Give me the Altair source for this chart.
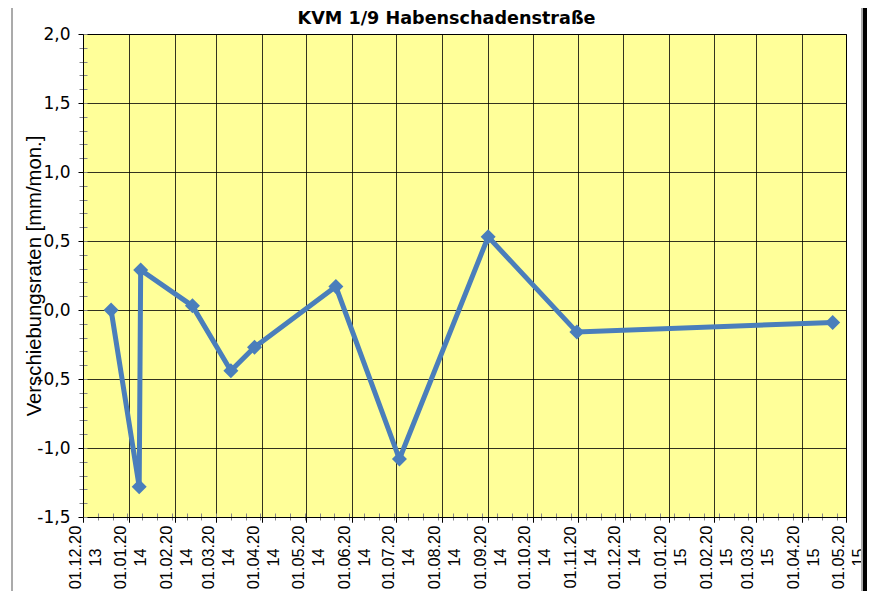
import altair as alt
import pandas as pd
import numpy as np

# ---- data ----
dates = ["2013-12-20", "2014-01-08", "2014-01-09", "2014-02-13", "2014-03-11",
         "2014-03-27", "2014-05-21", "2014-07-03", "2014-09-01", "2014-10-31",
         "2015-04-22"]
rates = [0.00, -1.28, 0.29, 0.03, -0.44, -0.27, 0.17, -1.08, 0.53, -0.16, -0.09]

title_text = ["KVM 1/9 Habenschadenstraße"]
y_title = "Verschiebungsraten [mm/mon.]"
x_start = "2013-12-01"
x_end = "2015-05-01"
y_major = [-1.5, -1.0, -0.5, 0.0, 0.5, 1.0, 1.5, 2.0]

df = pd.DataFrame({"date": dates, "rate": rates})
title_df = pd.DataFrame({"t": title_text})


def to_ms(t):
    return int(pd.Timestamp(t).value // 10**6)


month_ms = [to_ms(t) for t in pd.date_range(x_start, x_end, freq="MS")]
minor_ms = [to_ms(t) for t in pd.date_range(x_start, x_end, freq="10D")]
y_minor = [round(float(v), 1) for v in np.arange(-1.5, 2.0001, 0.1)]

xs = alt.Scale(type="utc", domain=[month_ms[0], month_ms[-1]], nice=False)
ys = alt.Scale(domain=[-1.5, 2.0], nice=False, zero=False)

LINE = "#4A7EBB"
LBL_FONT = "Liberation Sans"
LBL_SIZE = 16.3
LBL_PAD = 35

date_label_expr = "substring(utcFormat(datum.value,'%d.%m.%Y'),0,8)"
year_label_expr = "substring(utcFormat(datum.value,'%d.%m.%Y'),8,10)"
y_label_expr = "replace(replace(format(datum.value,'.1f'),'.',','),'\u2212','-')"

ax_main = alt.Axis(orient="bottom", values=month_ms, labelExpr=date_label_expr,
                   labelAngle=270, labelAlign="center", labelBaseline="middle",
                   labelFont=LBL_FONT, labelFontSize=LBL_SIZE,
                   labelColor="black", labelPadding=LBL_PAD, labelOffset=-8,
                   labelOverlap=False, labelFlush=False,
                   tickSize=5, tickColor="black", domainColor="black",
                   grid=True, gridColor="black", gridOpacity=0.8,
                   title=None)
ay_main = alt.Axis(orient="left", values=y_major, labelExpr=y_label_expr,
                   labelFont="DejaVu Sans", labelFontSize=17,
                   labelColor="black", labelPadding=8,
                   tickSize=5, tickColor="black", domainColor="black",
                   grid=True, gridColor="black", gridOpacity=0.8,
                   title=y_title, titleFont="Liberation Sans",
                   titleFontSize=20.3, titleFontWeight="normal",
                   titleColor="black", titlePadding=-8)

ax_year = alt.Axis(orient="bottom", values=month_ms, labelExpr=year_label_expr,
                   labelAngle=270, labelAlign="center", labelBaseline="middle",
                   labelFont=LBL_FONT, labelFontSize=LBL_SIZE,
                   labelColor="black", labelPadding=LBL_PAD, labelOffset=12,
                   labelOverlap=False, labelFlush=False,
                   ticks=True, tickSize=5, tickColor="black", domain=False,
                   grid=False, title=None)

ax_minor = alt.Axis(orient="bottom", values=minor_ms, labels=False,
                    domain=False, grid=False, tickSize=7, offset=-4,
                    tickColor="#888888", title=None)
ay_minor = alt.Axis(orient="left", values=y_minor, labels=False,
                    domain=False, grid=False, tickSize=8, offset=-4,
                    tickColor="#888888", title=None)

main = alt.Chart(df).mark_line(
    color=LINE, strokeWidth=5,
    point=alt.OverlayMarkDef(shape="diamond", filled=True, size=225,
                             color=LINE, opacity=1),
).encode(
    x=alt.X("date:T", scale=xs, axis=ax_main),
    y=alt.Y("rate:Q", scale=ys, axis=ay_main),
)

minor = alt.Chart(df).mark_point(opacity=0).encode(
    x=alt.X("date:T", scale=xs, axis=ax_minor),
    y=alt.Y("rate:Q", scale=ys, axis=ay_minor),
)

years = alt.Chart(df).mark_point(opacity=0).encode(
    x=alt.X("date:T", scale=xs, axis=ax_year),
    y=alt.Y("rate:Q", scale=ys, axis=None),
)

# chart title, centred over the chart area as in the reference
title = alt.Chart(title_df).mark_text(
    font="DejaVu Sans", fontSize=17.6, fontWeight="bold", color="black",
    align="center", baseline="alphabetic",
).encode(text="t:N", x=alt.value(363.5), y=alt.value(-10))

# frame lines of the neighbouring sheet objects visible at the crop edges
edge_left = alt.Chart(df).mark_rule(color="#aaaaaa", strokeWidth=1).encode(
    x=alt.value(-71), y=alt.value(-26), y2=alt.value(570))
edge_right_grey = alt.Chart(df).mark_rule(color="#aaaaaa", strokeWidth=1).encode(
    x=alt.value(779), y=alt.value(-26), y2=alt.value(570))
edge_right = alt.Chart(df).mark_rule(color="black", strokeWidth=3).encode(
    x=alt.value(782), y=alt.value(-26), y2=alt.value(570))

chart = alt.layer(minor, years, main, title, edge_left, edge_right_grey,
                  edge_right).resolve_axis(
    x="independent", y="independent"
).properties(
    width=763, height=483,
    padding={"left": 75, "top": 26, "right": 21, "bottom": 74},
    autosize=alt.AutoSizeParams(type="none"),
    background="white",
).configure_view(
    fill="#FFFF99", stroke="black", strokeWidth=1
)

chart.save("out.html", embed_options={"renderer": "svg", "actions": False})
